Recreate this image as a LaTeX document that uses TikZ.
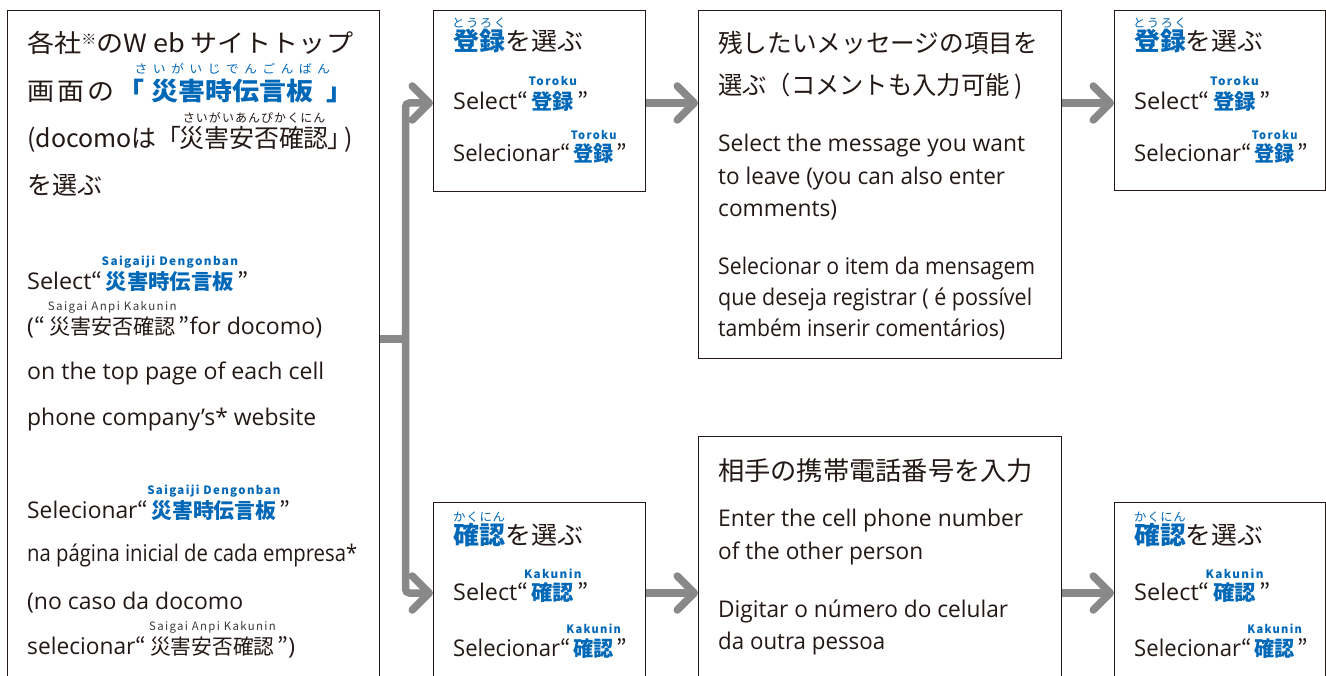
\documentclass[tikz,border=0pt]{standalone}
\usepackage{fontspec}
\usepackage{graphicx}
\setmainfont{Open Sans}
\newfontfamily\jp{Noto Sans CJK JP}
\newfontfamily\rlat{Noto Sans CJK JP}[LetterSpace=12]
\usetikzlibrary{arrows.meta}
\definecolor{jblue}{HTML}{0068B7}
\definecolor{txt}{HTML}{231815}
\definecolor{agray}{HTML}{898989}
\definecolor{rgray}{HTML}{3E3A39}
\newcommand\fs[1]{\fontsize{#1}{#1}\selectfont}
\newbox\fitbox
\newcommand\fitline[2]{\setbox\fitbox=\hbox{#2}\pgfmathsetmacro\fitr{#1/\the\wd\fitbox}\scalebox{\fitr}[1]{\box\fitbox}}
\newcommand\rb[3][24pt]{\leavevmode\setbox0=\hbox{#2}\dimen0=\wd0\relax\rlap{\raise#1\hbox to\dimen0{\hss#3\hss}}\box0}
\def\spreadi#1{#1\futurelet\spnext\spreadchk}
\def\spreadchk{\ifx\spnext\relax\expandafter\spreadend\else\hfil\expandafter\spreadi\fi}
\def\spreadend\relax{}
\newcommand\spread[2]{\hbox to #1{\spreadi#2\relax}}
\newcommand\bk[1]{{\jp\bfseries\color{jblue}#1}}
\newcommand\rlb[1]{{\rlat\bfseries\fs{11.5}\color{jblue}#1}}
\newcommand\rlg[1]{{\rlat\fs{11.5}\color{rgray}#1}}
\newcommand\rkana[2]{{\jp\fs{12}\mdseries\color{jblue}\spread{#1}{#2}}}
\newcommand\qo{{\jp “}}
\newcommand\qc{{\jp ”}}
\tikzset{
 bx/.style={draw=txt, line width=1.2pt, inner sep=0pt, anchor=north west},
 en/.style={anchor=base west, inner sep=0pt, text=txt, font=\fs{23}},
 ja/.style={anchor=base west, inner sep=0pt, text=txt, font=\jp\fs{25}},
 conn/.style={draw=agray, line width=7.5pt},
 arr/.style={conn, rounded corners=4pt, -{Straight Barb[length=17pt,width=34pt,round]}},
}
\begin{document}
\begin{tikzpicture}[x=1pt,y=-1pt]
\useasboundingbox (0,0) rectangle (1326,676);
\fill[white] (0,0) rectangle (1326,676);
\clip (0,0) rectangle (1326,676);
% boxes
\node[bx, minimum width=372, minimum height=720] (L) at (7,10) {};
\node[bx, minimum width=212, minimum height=181] (B2) at (433,10) {};
\node[bx, minimum width=363, minimum height=348] (B3) at (698,10) {};
\node[bx, minimum width=211, minimum height=180] (B4) at (1114,10) {};
\node[bx, minimum width=212, minimum height=220] (B5) at (433,502) {};
\node[bx, minimum width=363, minimum height=300] (B6) at (698,436) {};
\node[bx, minimum width=211, minimum height=220] (B7) at (1114,502) {};
% connectors
\coordinate (j) at (405.5,339);
\coordinate (yt) at (0,103);
\coordinate (yb) at (0,593);
\draw[conn] (L.east|-j) -- (j);
\draw[arr] (j) |- (B2.west|-yt);
\draw[arr] (j) |- (B5.west|-yb);
\draw[arr] (B2.east|-yt) -- (B3.west|-yt);
\draw[arr] (B3.east|-yt) -- (B4.west|-yt);
\draw[arr] (B5.east|-yb) -- (B6.west|-yb);
\draw[arr] (B6.east|-yb) -- (B7.west|-yb);
% left box text
\node[ja] (l1) at (27,53) {\fitline{326}{各社\raisebox{8pt}{\fs{14}※}のW eb\kern5pt サイトトップ}};
\node[ja] (l2) at (27,101) {\fitline{326}{画\kern3pt 面\kern3pt の\kern3pt{\color{jblue}\bfseries 「\kern6pt\rb[27pt]{災害時伝言板}{\rkana{181pt}{さいがいじでんごんばん}}\kern12pt 」}}};
\node[ja] (l3) at (27,148) {\fitline{326}{({\fs{25}docomo}は「\kern-2pt\rb[25pt]{災害安否確認}{{\jp\fs{12}\color{txt}\spread{143pt}{さいがいあんぴかくにん}}}\kern-1pt」\kern-8pt)}};
\node[ja] (l4) at (27,195) {を選ぶ};
\node[en] (l5) at (27,290) {\fitline{221}{Select\qo\kern3pt\rb{\bk{\fs{21}災害時伝言板}}{\rlb{Saigaiji Dengonban}}\kern3pt\qc}};
\node[en] (l6) at (27,335) {\fitline{295}{(\qo\kern4pt\rb{{\jp\fs{21}災害安否確認}}{\rlg{Saigai Anpi Kakunin}}\kern3pt\qc for docomo)}};
\node[en] (l7) at (27,380) {\fitline{297}{on the top page of each cell}};
\node[en] (l8) at (27,425) {\fitline{289}{phone company’s* website}};
\node[en] (l9) at (27,518) {\fitline{263}{Selecionar\qo\kern3pt\rb{\bk{\fs{21}災害時伝言板}}{\rlb{Saigaiji Dengonban}}\kern3pt\qc}};
\node[en] (l10) at (27,561) {\fitline{330}{na página inicial de cada empresa*}};
\node[en] (l11) at (27,609) {\fitline{216}{(no caso da docomo}};
\node[en] (l12) at (27,654) {\fitline{268}{selecionar\qo\kern4pt\rb{{\jp\fs{21}災害安否確認}}{\rlg{Saigai Anpi Kakunin}}\kern3pt\qc)}};
% box 2
\node[ja] (t2a) at (453,51) {\fitline{130}{\rb[23pt]{\bk{登録}}{\rkana{52pt}{とうろく}}を選ぶ}};
\node[en] (t2b) at (453,110) {\fitline{135}{Select\qo\kern3pt\rb{\bk{\fs{21}登録}}{\rlb{Toroku}}\kern3pt\qc}};
\node[en] (t2c) at (453,162) {\fitline{174}{Selecionar\qo\kern3pt\rb[22pt]{\bk{\fs{21}登録}}{\rlb{Toroku}}\kern3pt\qc}};
% box 3
\node[ja] (t3a) at (718,53) {\fitline{320}{残したいメッセージの項目を}};
\node[ja] (t3b) at (718,95) {\fitline{305}{選ぶ（コメントも入力可能 )}};
\node[en] (t3c) at (718,152) {\fitline{307}{Select the message you want}};
\node[en] (t3d) at (718,185) {\fitline{287}{to leave (you can also enter}};
\node[en] (t3e) at (718,217) {\fitline{119}{comments)}};
\node[en] (t3f) at (718,275) {\fitline{317}{Selecionar o item da mensagem}};
\node[en] (t3g) at (718,306) {\fitline{314}{que deseja registrar ( é possível}};
\node[en] (t3h) at (718,337) {\fitline{287}{também inserir comentários)}};
% box 4
\node[ja] (t4a) at (1134,51) {\fitline{129}{\rb[23pt]{\bk{登録}}{\rkana{52pt}{とうろく}}を選ぶ}};
\node[en] (t4b) at (1134,110) {\fitline{136}{Select\qo\kern3pt\rb{\bk{\fs{21}登録}}{\rlb{Toroku}}\kern3pt\qc}};
\node[en] (t4c) at (1134,162) {\fitline{174}{Selecionar\qo\kern3pt\rb[22pt]{\bk{\fs{21}登録}}{\rlb{Toroku}}\kern3pt\qc}};
% box 5
\node[ja] (t5a) at (453,544) {\fitline{130}{\rb[23pt]{\bk{確認}}{\rkana{50pt}{かくにん}}を選ぶ}};
\node[en] (t5b) at (453,600) {\fitline{135}{Select\qo\kern3pt\rb[22pt]{\bk{\fs{21}確認}}{\rlb{Kakunin}}\kern3pt\qc}};
\node[en] (t5c) at (453,656) {\fitline{174}{Selecionar\qo\kern3pt\rb[23pt]{\bk{\fs{21}確認}}{\rlb{Kakunin}}\kern3pt\qc}};
% box 6
\node[ja, font=\jp\fs{26}] (t6a) at (718,480) {\fitline{315}{相手の携帯電話番号を入力}};
\node[en] (t6b) at (718,526) {\fitline{305}{Enter the cell phone number}};
\node[en] (t6c) at (718,559) {\fitline{205}{of the other person}};
\node[en] (t6d) at (718,617) {\fitline{290}{Digitar o número do celular}};
\node[en] (t6e) at (718,649) {\fitline{167}{da outra pessoa}};
% box 7
\node[ja] (t7a) at (1134,544) {\fitline{129}{\rb[23pt]{\bk{確認}}{\rkana{50pt}{かくにん}}を選ぶ}};
\node[en] (t7b) at (1134,600) {\fitline{136}{Select\qo\kern3pt\rb[22pt]{\bk{\fs{21}確認}}{\rlb{Kakunin}}\kern3pt\qc}};
\node[en] (t7c) at (1134,656) {\fitline{174}{Selecionar\qo\kern3pt\rb[23pt]{\bk{\fs{21}確認}}{\rlb{Kakunin}}\kern3pt\qc}};
\end{tikzpicture}
\end{document}
